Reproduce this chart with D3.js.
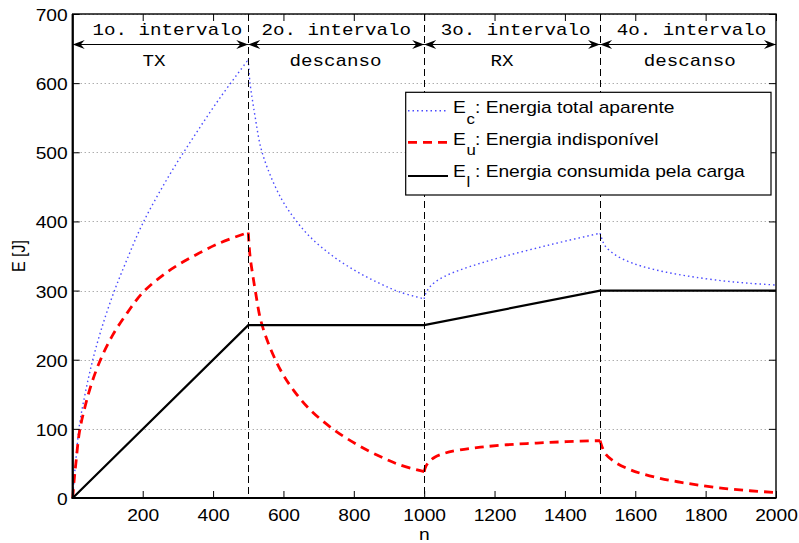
<!DOCTYPE html>
<html>
<head>
<meta charset="utf-8">
<script src="https://cdn.jsdelivr.net/npm/d3@7"></script>
<style>
  html, body { margin: 0; padding: 0; background: #fff; }
  svg { display: block; }
</style>
</head>
<body>
<svg id="chart" width="799" height="543"></svg>
<script>
// ---------------- data ----------------
const nSamples = [0,5,10,20,35,55,80,115,155,200,270,345,420,500,
  505,512,520,535,560,595,630,675,740,810,875,930,1000,
  1005,1015,1030,1060,1100,1160,1235,1320,1405,1500,
  1505,1515,1545,1585,1620,1670,1720,1775,1850,1925,2000];

// E_c : Energia total aparente
const energyTotal = [0,27.5,55,105,147.5,193.5,240,293.5,344.5,397,462,522.5,579,634,
  600,575,550,508,470,432,405,378,350,327,310,298,288,
  296.5,304.5,312,321,329.5,339.5,350.5,361.5,372,383,
  375,364,351,341,335,328.5,323.5,319,314,310.5,308];

// E_u : Energia indisponível
const energyUnavailable = [0,25,50,95,130,166,200,236,267,297,327,350,369,384,
  350,325,300,258,220,182,155,128,100,77,60,48,38,
  46,53,59,65,69.5,73.5,77,79.5,81.5,83,
  75,64,51,41,35,28.5,23.5,19,14,10.5,8];

// E_l : Energia consumida pela carga
const nLoad = [0,500,1000,1500,2000];
const energyLoad = [0,250,250,300,300];

const boundaries = [500,1000,1500];
const intervalStarts = [1,500,1000,1500];
const intervalEnds = [500,1000,1500,2000];
const intervalTitles = ["1o. intervalo","2o. intervalo","3o. intervalo","4o. intervalo"];
const intervalModes = ["TX","descanso","RX","descanso"];
const titleCenters = [270,750,1260,1760];
const modeCenters = [232,748,1221,1755];

const xTicks = [200,400,600,800,1000,1200,1400,1600,1800,2000];
const yTicks = [0,100,200,300,400,500,600,700];

const legendLabels = [
  {main:"E", sub:"c", rest:": Energia total aparente"},
  {main:"E", sub:"u", rest:": Energia indisponível"},
  {main:"E", sub:"l", rest:": Energia consumida pela carga"}
];

// ---------------- drawing ----------------
const SX = 1.2; // horizontal stretch of the text in the reference
const sans = "'Liberation Sans', Arial, Helvetica, sans-serif";
const mono = "'Liberation Mono', 'Courier New', Courier, monospace";

const svg = d3.select("#chart");
const L = 72.7, R = 776, T = 14, B = 498;
const x = d3.scaleLinear().domain([1,2000]).range([L,R]);
const y = d3.scaleLinear().domain([0,700]).range([B,T]);

function stext(g, tx, ty, str, opts) {
  opts = opts || {};
  return g.append("text")
    .attr("transform", `translate(${tx},${ty}) scale(${SX},1)`)
    .attr("text-anchor", opts.anchor || "start")
    .attr("font-family", opts.family || sans)
    .attr("font-size", opts.size || 16)
    .attr("fill", "#000")
    .text(str);
}

// grid
svg.append("g").selectAll("line").data(yTicks.filter(v => v > 0))
  .join("line")
  .attr("x1", L).attr("x2", R)
  .attr("y1", d => Math.round(y(d)) + 0.5).attr("y2", d => Math.round(y(d)) + 0.5)
  .attr("stroke", "#8a8a8a").attr("stroke-width", 1)
  .attr("stroke-dasharray", "1,3");

// series
const segOf = (ns, vs) => {
  const segs = [];
  for (let k = 0; k < 4; k++) {
    const lo = k === 0 ? 0 : boundaries[k-1];
    const hi = k === 3 ? 2000 : boundaries[k];
    segs.push(ns.map((n,i) => [n, vs[i]]).filter(p => p[0] >= lo && p[0] <= hi));
  }
  return segs;
};
const lineGen = d3.line().x(d => x(Math.max(d[0],1))).y(d => y(d[1])).curve(d3.curveCatmullRom.alpha(0.5));
const pathOf = segs => segs.map(s => lineGen(s)).join("");

svg.append("path").attr("d", pathOf(segOf(nSamples, energyTotal)))
  .attr("fill","none").attr("stroke","#4a4aff").attr("stroke-width",1.4)
  .attr("stroke-dasharray","1.5,3");
svg.append("path").attr("d", pathOf(segOf(nSamples, energyUnavailable)))
  .attr("fill","none").attr("stroke","#ff0000").attr("stroke-width",2.8)
  .attr("stroke-dasharray","9,6");
svg.append("path")
  .attr("d", d3.line().x(d => x(Math.max(d[0],1))).y(d => y(d[1]))(nLoad.map((n,i)=>[n, energyLoad[i]])))
  .attr("fill","none").attr("stroke","#000").attr("stroke-width",2.2);

// vertical boundaries
svg.append("g").selectAll("line").data(boundaries).join("line")
  .attr("x1", d => Math.round(x(d)) + 0.5).attr("x2", d => Math.round(x(d)) + 0.5)
  .attr("y1", T).attr("y2", B)
  .attr("stroke","#000").attr("stroke-width",1)
  .attr("stroke-dasharray","7,4");

// axes (ticks inward)
const fmt = d3.format("d");
const axB = svg.append("g").attr("transform",`translate(0,${B})`)
  .call(d3.axisBottom(x).tickValues(xTicks).tickFormat(fmt).tickSize(-7).tickSizeOuter(0));
axB.selectAll("text").attr("y", 23).attr("dy", null)
  .attr("transform", `scale(${SX},1)`)
  .attr("font-family", sans).attr("font-size", 16).attr("fill","#000");
const axT = svg.append("g").attr("transform",`translate(0,${T})`)
  .call(d3.axisTop(x).tickValues(xTicks).tickSize(-7).tickSizeOuter(0).tickFormat(""));
const axL = svg.append("g").attr("transform",`translate(${L},0)`)
  .call(d3.axisLeft(y).tickValues(yTicks).tickFormat(fmt).tickSize(-7).tickSizeOuter(0));
axL.selectAll("text").attr("x", -5/SX).attr("dy", null).attr("y", 6.5)
  .attr("transform", `scale(${SX},1)`)
  .attr("font-family", sans).attr("font-size", 16).attr("fill","#000");
const axR = svg.append("g").attr("transform",`translate(${R},0)`)
  .call(d3.axisRight(y).tickValues(yTicks).tickSize(-7).tickSizeOuter(0).tickFormat(""));
[axB, axT, axL, axR].forEach(a => {
  a.select(".domain").remove();
  a.selectAll(".tick line").attr("stroke","#000").attr("stroke-width",1);
});

// box
svg.append("rect").attr("x",L).attr("y",T).attr("width",R-L).attr("height",B-T)
  .attr("fill","none").attr("stroke","#000").attr("stroke-width",1.4);
svg.append("line").attr("x1",L).attr("x2",L).attr("y1",T).attr("y2",B+1)
  .attr("stroke","#000").attr("stroke-width",2.2);
svg.append("line").attr("x1",L-1).attr("x2",R).attr("y1",B).attr("y2",B)
  .attr("stroke","#000").attr("stroke-width",2.2);

// axis labels
stext(svg, (L+R)/2, 540, "n", {anchor:"middle"});
svg.append("text")
  .attr("transform", `translate(25,${(T+B)/2}) rotate(-90) scale(1,${SX})`)
  .attr("text-anchor","middle").attr("font-family",sans).attr("font-size",16)
  .text("E [J]");

// interval annotations
const ay = 44.5;
const ann = svg.append("g");
intervalStarts.forEach((s, i) => {
  const x0 = x(s), x1 = x(intervalEnds[i]);
  ann.append("line").attr("x1",x0).attr("x2",x1).attr("y1",ay).attr("y2",ay)
    .attr("stroke","#000").attr("stroke-width",1);
  ann.append("path").attr("d",`M${x0},${ay} L${x0+12},${ay-4.5} L${x0+8},${ay} L${x0+12},${ay+4.5} Z`).attr("fill","#000");
  ann.append("path").attr("d",`M${x1},${ay} L${x1-12},${ay-4.5} L${x1-8},${ay} L${x1-12},${ay+4.5} Z`).attr("fill","#000");
  stext(ann, x(titleCenters[i]), 35, intervalTitles[i], {anchor:"middle", family:mono, size:16});
  stext(ann, x(modeCenters[i]), 66, intervalModes[i], {anchor:"middle", family:mono, size:16});
});

// legend
const lg = svg.append("g");
lg.append("rect").attr("x",405.7).attr("y",92.3).attr("width",771-405.7).attr("height",195-92.3)
  .attr("fill","#fff").attr("stroke","#000").attr("stroke-width",1.2);
const lineYs = [110.7, 142.3, 176];
const baseYs = [113.3, 144.5, 176.5];
const styles = [
  {stroke:"#4a4aff", w:1.4, dash:"1.5,3"},
  {stroke:"#ff0000", w:2.8, dash:"9,6"},
  {stroke:"#000", w:2.2, dash:null}
];
legendLabels.forEach((lab, i) => {
  lg.append("line").attr("x1",408).attr("x2",448).attr("y1",lineYs[i]).attr("y2",lineYs[i])
    .attr("stroke",styles[i].stroke).attr("stroke-width",styles[i].w)
    .attr("stroke-dasharray",styles[i].dash);
  stext(lg, 453, baseYs[i], lab.main, {size:16});
  stext(lg, 466.5, baseYs[i]+10.5, lab.sub, {size:14});
  stext(lg, 475, baseYs[i], lab.rest, {size:16});
});
</script>
</body>
</html>
